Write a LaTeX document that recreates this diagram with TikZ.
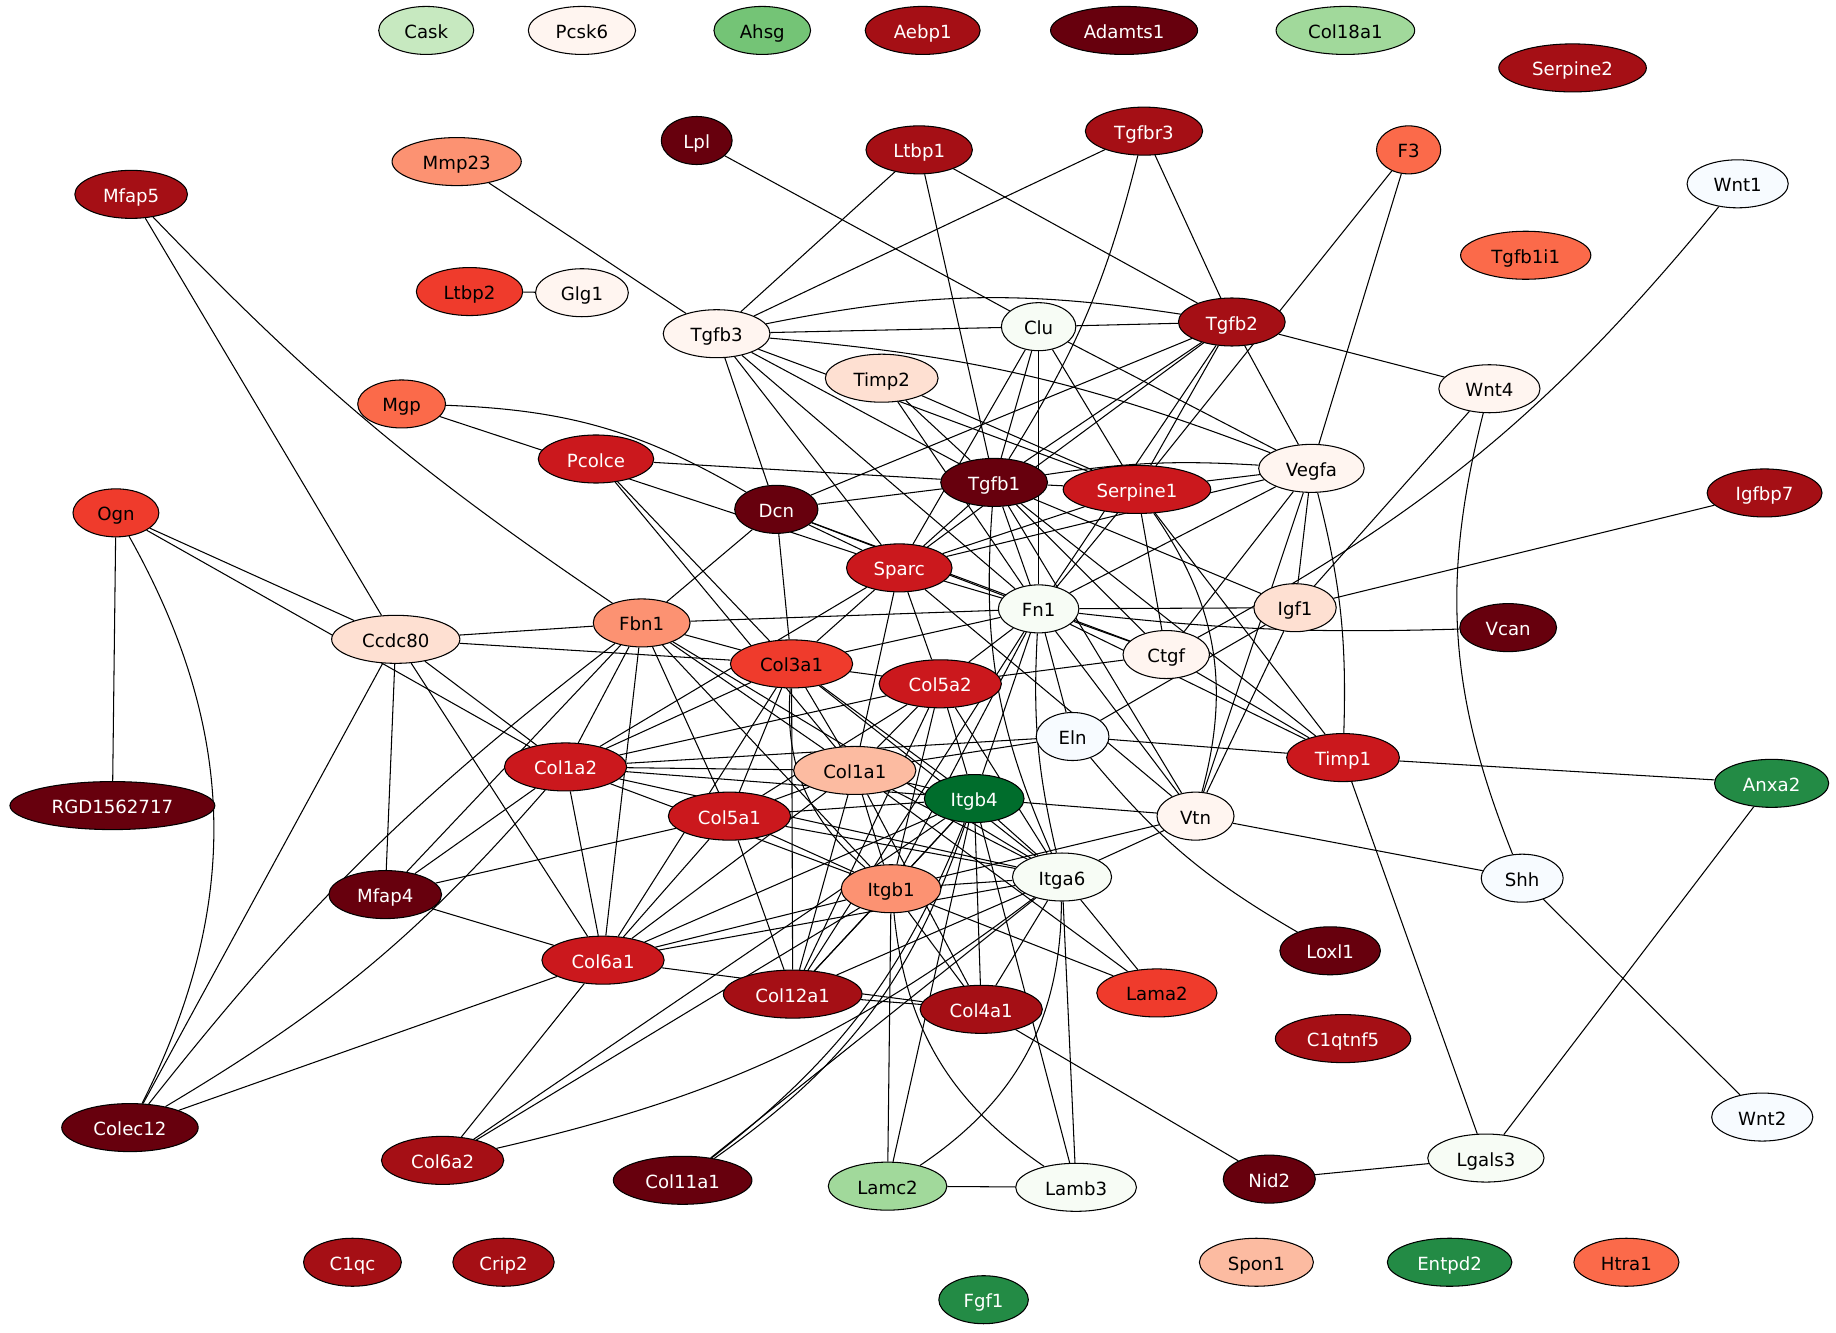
\documentclass[tikz,border=0pt]{standalone}
\usepackage{fontspec}
\setmainfont{DejaVu Sans}
\usetikzlibrary{shapes.geometric,backgrounds}
\definecolor{r1}{HTML}{FFF5F0}
\definecolor{r2}{HTML}{FEE0D2}
\definecolor{r3}{HTML}{FCBBA1}
\definecolor{r4}{HTML}{FC9272}
\definecolor{r5}{HTML}{FB6A4A}
\definecolor{r6}{HTML}{EF3B2C}
\definecolor{r7}{HTML}{CB181D}
\definecolor{r8}{HTML}{A50F15}
\definecolor{r9}{HTML}{67000D}
\definecolor{g1}{HTML}{F7FCF5}
\definecolor{g3}{HTML}{C7E9C0}
\definecolor{g4}{HTML}{A1D99B}
\definecolor{g5}{HTML}{74C476}
\definecolor{g7}{HTML}{238B45}
\definecolor{g8}{HTML}{006D2C}
\definecolor{b1}{HTML}{F7FBFF}
\begin{document}
\begin{tikzpicture}[x=0.5pt, y=-0.5pt,
        gene/.style={ellipse, draw=black, line width=0.45pt, inner xsep=5pt, inner ysep=2pt,
            minimum height=20.5pt, text height=1.55ex, text depth=0.3ex,
            font=\fontsize{7.75}{9}\selectfont},
        link/.style={line width=0.45pt, black}]
    \useasboundingbox (0,0) rectangle (1568,1138);
    \foreach \n/\x/\y/\c/\t in {Cask/364/26/g3/black, Pcsk6/497/26/r1/black, Ahsg/651/26/g5/black,
            Aebp1/788/26/r8/white, Adamts1/960/26/r9/white, Col18a1/1149/26/g4/black,
            Serpine2/1343/58/r8/white, Lpl/595/120/r9/white, Ltbp1/785/128/r8/white,
            Tgfbr3/977/112/r8/white, F3/1203/128/r5/black, Mmp23/390/138/r4/black,
            Mfap5/112/166/r8/white, Wnt1/1484/157/b1/black, Tgfb1i1/1303/218/r5/black,
            Ltbp2/401/249/r6/black, Glg1/497/250/r1/black, Tgfb3/612/285/r1/black,
            Clu/887/279/g1/black, Tgfb2/1052/275/r8/white, Wnt4/1272/332/r1/black,
            Timp2/753/323/r2/black, Mgp/343/345/r5/black, Pcolce/509/392/r7/white,
            Vegfa/1120/400/r1/black, Tgfb1/849/412/r9/white, Serpine1/971/418/r7/white,
            Igfbp7/1507/421/r8/white, Dcn/663/435/r9/white, Ogn/99/438/r6/black,
            Sparc/768/485/r7/white, Fn1/887/520/g1/black, Igf1/1106/519/r2/black,
            Vcan/1288/536/r9/white, Ccdc80/338/546/r2/black, Fbn1/548/532/r4/black,
            Ctgf/996/559/r1/black, Col3a1/676/567/r6/black, Col5a2/803/584/r7/white,
            Eln/916/629/b1/black, Timp1/1147/647/r7/white, Col1a2/483/655/r7/white,
            Col1a1/730/658/r3/black, Itgb4/832/682/g8/white, Anxa2/1513/669/g7/white,
            RGD1562717/96/688/r9/white, Col5a1/623/697/r7/white, Vtn/1021/697/r1/black,
            Itga6/907/749/g1/black, Itgb1/761/759/r4/black, Shh/1300/750/b1/black,
            Mfap4/329/764/r9/white, Col6a1/515/820/r7/white, Loxl1/1136/812/r9/white,
            Col12a1/677/849/r8/white, Col4a1/838/862/r8/white, Lama2/988/848/r6/black,
            C1qtnf5/1147/887/r8/white, Wnt2/1505/954/b1/black, Colec12/111/963/r9/white,
            Col6a2/378/991/r8/white, Lgals3/1269/989/g1/black, Col11a1/583/1008/r9/white,
            Nid2/1084/1007/r9/white, Lamc2/758/1013/g4/black, Lamb3/919/1014/g1/black,
            C1qc/301/1078/r8/white, Crip2/430/1078/r8/white, Spon1/1073/1078/r3/black,
            Entpd2/1238/1078/g7/white, Htra1/1389/1078/r5/black, Fgf1/840/1110/g7/white}
        \node[gene, fill=\c, text=\t] (\n) at (\x,\y) {\n};
    \begin{scope}[on background layer]
        \fill[white] (0,0) rectangle (1568,1138);
        \foreach \a/\b in {Mfap5/Ccdc80, Mmp23/Tgfb3, Ltbp2/Glg1, Lpl/Clu,
                Ltbp1/Tgfb3, Ltbp1/Tgfb1, Ltbp1/Tgfb2, Tgfbr3/Tgfb3, Tgfbr3/Tgfb2,
                F3/Serpine1, F3/Vegfa, Wnt4/Tgfb2, Wnt4/Igf1, Igfbp7/Igf1,
                Mgp/Sparc, Ogn/RGD1562717, Ogn/Ccdc80, Ogn/Col1a2,
                Pcolce/Tgfb1, Pcolce/Col3a1, Pcolce/Col1a1,
                Timp1/Anxa2, Timp1/Lgals3, Anxa2/Lgals3, Shh/Vtn, Shh/Wnt2, Nid2/Lgals3,
                Nid2/Col4a1, Lamc2/Lamb3,
                Colec12/Ccdc80, Colec12/Col6a1,
                Mfap4/Ccdc80, Mfap4/Fbn1, Mfap4/Col1a2, Mfap4/Col5a1, Mfap4/Col6a1,
                Ccdc80/Fbn1, Ccdc80/Col3a1, Ccdc80/Col1a2, Ccdc80/Col6a1,
                Col6a2/Col6a1, Col6a2/Itgb4, Col6a2/Itgb1, Col11a1/Itga6,
                Lamc2/Itgb1, Lamc2/Itgb4, Lamb3/Itgb4, Lamb3/Itga6,
                Lama2/Itgb1, Lama2/Itga6, Lama2/Col1a1,
                Tgfb3/Clu, Tgfb3/Dcn, Tgfb3/Sparc, Tgfb3/Fn1, Tgfb3/Tgfb1, Tgfb3/Serpine1,
                Clu/Tgfb2, Clu/Sparc, Clu/Tgfb1, Clu/Fn1, Clu/Serpine1, Clu/Vegfa,
                Tgfb2/Vegfa, Tgfb2/Dcn, Tgfb2/Sparc, Tgfb2/Tgfb1, Tgfb2/Fn1, Tgfb2/Serpine1,
                Timp2/Tgfb1, Timp2/Fn1, Timp2/Serpine1,
                Tgfb1/Serpine1, Tgfb1/Dcn, Tgfb1/Sparc, Tgfb1/Fn1, Tgfb1/Ctgf, Tgfb1/Igf1,
                Tgfb1/Timp1, Tgfb1/Vtn,
                Serpine1/Vegfa, Serpine1/Sparc, Serpine1/Fn1, Serpine1/Ctgf, Serpine1/Timp1,
                Vegfa/Sparc, Vegfa/Fn1, Vegfa/Igf1, Vegfa/Ctgf, Vegfa/Vtn,
                Dcn/Sparc, Dcn/Fn1, Dcn/Ctgf, Dcn/Col3a1, Dcn/Fbn1,
                Sparc/Fn1, Sparc/Col3a1, Sparc/Col5a2, Sparc/Col1a1, Sparc/Col1a2, Sparc/Vtn,
                Fn1/Igf1, Fn1/Ctgf, Fn1/Timp1, Fn1/Eln, Fn1/Vtn, Fn1/Itgb4, Fn1/Itgb1,
                Fn1/Col12a1, Fn1/Col5a2, Fn1/Col3a1, Fn1/Fbn1,
                Igf1/Eln, Igf1/Vtn, Ctgf/Col5a2, Ctgf/Timp1, Eln/Col1a1, Eln/Col1a2, Eln/Timp1,
                Vtn/Itgb4, Vtn/Itga6, Vtn/Itgb1,
                Fbn1/Col3a1, Fbn1/Col1a1, Fbn1/Col5a1, Fbn1/Itgb1, Fbn1/Itga6, Fbn1/Col6a1,
                Fbn1/Col1a2,
                Col3a1/Col5a2, Col3a1/Col1a2, Col3a1/Col1a1, Col3a1/Col5a1, Col3a1/Itgb4,
                Col3a1/Itga6, Col3a1/Col6a1, Col3a1/Col12a1,
                Col1a2/Col5a2, Col1a2/Col1a1, Col1a2/Itgb4, Col1a2/Itgb1, Col1a2/Itga6,
                Col1a2/Col6a1,
                Col5a2/Col1a1, Col5a2/Col5a1, Col5a2/Itgb4, Col5a2/Itgb1, Col5a2/Itga6,
                Col5a2/Col12a1,
                Col1a1/Col5a1, Col1a1/Itgb4, Col1a1/Itgb1, Col1a1/Itga6, Col1a1/Col6a1,
                Col1a1/Col12a1, Col1a1/Col4a1,
                Col5a1/Itgb4, Col5a1/Itgb1, Col5a1/Itga6, Col5a1/Col6a1, Col5a1/Col12a1,
                Itgb4/Itgb1, Itgb4/Itga6, Itgb4/Col6a1, Itgb4/Col4a1, Itgb4/Col12a1,
                Itgb1/Itga6, Itgb1/Col6a1, Itgb1/Col12a1, Itgb1/Col4a1,
                Itga6/Col6a1, Itga6/Col12a1, Itga6/Col4a1, Col6a1/Col4a1, Col12a1/Col4a1}
            \draw[link] (\a) -- (\b);
        \draw[link] (Mfap5) to[bend right=6] (Fbn1);
        \draw[link] (Colec12) to[bend left=7] (Fbn1);
        \draw[link] (Colec12) to[bend right=9] (Col1a2);
        \draw[link] (Tgfbr3) to[bend left=9] (Tgfb1);
        \draw[link] (Wnt1) to[bend left=11] (Ctgf);
        \draw[link] (Eln) to[bend right=10] (Loxl1);
        \draw[link] (Tgfb3) to[bend left=10] (Tgfb2);
        \draw[link] (Tgfb3) to[bend left=8] (Vegfa);
        \draw[link] (Tgfb1) to[bend left=6] (Vegfa);
        \draw[link] (Mgp) to[bend left=14] (Dcn);
        \draw[link] (Ogn) to[bend left=28] (Colec12);
        \draw[link] (Wnt4) to[bend right=18] (Shh);
        \draw[link] (Fn1) to[bend right=8] (Itga6);
        \draw[link] (Fn1) to[bend right=4] (Vcan);
        \draw[link] (Tgfb1) to[bend right=14] (Itga6);
        \draw[link] (Serpine1) to[bend left=25] (Vtn);
        \draw[link] (Vegfa) to[bend left=8] (Timp1);
        \draw[link] (Col3a1) to[bend right=27] (Itgb1);
        \draw[link] (Lamb3) to[bend left=25] (Itgb1);
        \draw[link] (Lamc2) to[bend right=28] (Itga6);
        \draw[link] (Col6a2) to[bend right=12] (Itga6);
        \draw[link] (Col11a1) to[bend right=15] (Itgb4);
        \draw[link] (Col11a1) to[bend right=18] (Itgb4);
    \end{scope}
\end{tikzpicture}
\end{document}
